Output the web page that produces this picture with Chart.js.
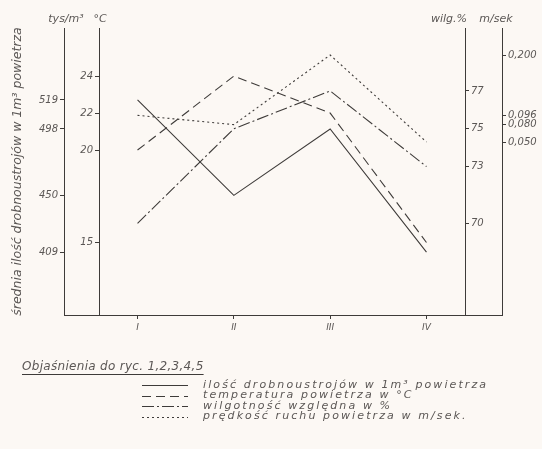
<!DOCTYPE html>
<html>
<head>
<meta charset="utf-8">
<title>Ryc.</title>
<script src="https://cdn.jsdelivr.net/npm/chart.js@4.4.0/dist/chart.umd.min.js"></script>
<style>
    html, body { margin: 0 ; padding: 0 ; background: #fcf8f4 ; }
    #wrap { width: 542px ; height: 449px ; position: relative ; }
</style>
</head>
<body>
<div id="wrap"><canvas id="ryc"></canvas></div>
<script>
// ---------------- Data -------------------------------------------------
const categories  = [ 'I', 'II', 'III', 'IV' ] ;
const microbes    = [ 519, 450, 498, 409 ] ;          // tys/m3
const temperature = [ 20, 24, 22, 15 ] ;              // °C
const humidity    = [ 70, 75, 77, 73 ] ;              // %
const windSpeed   = [ 0.096, 0.080, 0.200, 0.050 ] ;  // m/sek

const microTicks  = [ 519, 498, 450, 409 ] ;
const tempTicks   = [ 24, 22, 20, 15 ] ;
const humTicks    = [ 77, 75, 73, 70 ] ;
const speedTicks  = [ 0.200, 0.096, 0.080, 0.050 ] ;

const seriesLabels = [
    'ilość drobnoustrojów w 1m³ powietrza',
    'temperatura powietrza w °C',
    'wilgotność względna w %',
    'prędkość ruchu powietrza w m/sek.'
] ;

// ---------------- Look -------------------------------------------------
const FONT = "'DejaVu Sans'" ;
const INK  = '#3e3b39' ;
const TEXT = '#5b5755' ;

// -----------------------------------------------------------------------
// --- [START] Helpers ---------------------------------------------------
function points( values ) {
    return values.map( function( v, i ) { return { x : i + 1, y : v } ; } ) ;
}

function fixedTicks( values ) {
    return function( scale ) {
        scale.ticks = values.map( function( v ) { return { value : v } ; } ) ;
    } ;
}

function yAxis( position, weight, width, min, max, ticks, fmt ) {
    return {
        type : 'linear',
        position : position,
        weight : weight,
        min : min,
        max : max,
        afterBuildTicks : fixedTicks( ticks ),
        afterFit : function( scale ) { scale.width = width ; },
        border : { display : true, color : INK, width : 1 },
        grid : { drawOnChartArea : false, drawTicks : true, tickLength : 4, color : INK },
        ticks : {
            padding : 2,
            color : TEXT,
            font : { family : FONT, style : 'italic', size : 10 },
            callback : fmt || function( v ) { return v ; }
        }
    } ;
}
// --- [END] Helpers -----------------------------------------------------

// -----------------------------------------------------------------------
// --- [START] Decorations: units, baseline, legend ----------------------
const rycinaPlugin = {
    id : 'rycina',
    afterDraw : function( chart, args, opts ) {
        const ctx = chart.ctx ;
        const s = chart.scales ;
        const base = Math.round( chart.chartArea.bottom ) + 0.5 ;

        ctx.save() ;
        ctx.strokeStyle = INK ;
        ctx.lineWidth = 1 ;
        ctx.beginPath() ;
        ctx.moveTo( s.yMicro.right, base ) ;
        ctx.lineTo( s.ySpeed.left, base ) ;
        ctx.stroke() ;

        // units over the axes
        ctx.fillStyle = TEXT ;
        ctx.textBaseline = 'middle' ;
        ctx.font = 'italic 11px ' + FONT ;
        ctx.textAlign = 'center' ;
        ctx.fillText( 'tys/m³', s.yMicro.right + 2, opts.unitY ) ;
        ctx.fillText( '°C', s.yTemp.right + 1, opts.unitY ) ;
        ctx.textAlign = 'right' ;
        ctx.fillText( 'wilg.%', s.yHum.left + 2, opts.unitY ) ;
        ctx.textAlign = 'center' ;
        ctx.fillText( 'm/sek', s.ySpeed.left - 6, opts.unitY ) ;

        // legend
        ctx.textAlign = 'left' ;
        ctx.font = 'italic 12px ' + FONT ;
        ctx.letterSpacing = '0.3px' ;
        const title = 'Objaśnienia do ryc. 1,2,3,4,5' ;
        ctx.fillText( title, opts.titleX, opts.titleY ) ;
        const tw = ctx.measureText( title ).width ;
        ctx.beginPath() ;
        ctx.moveTo( opts.titleX, opts.titleY + 7.5 ) ;
        ctx.lineTo( opts.titleX + tw, opts.titleY + 7.5 ) ;
        ctx.stroke() ;

        ctx.font = 'italic 11px ' + FONT ;
        ctx.letterSpacing = '2.1px' ;
        chart.data.datasets.forEach( function( ds, i ) {
            const y = opts.rowY + i * opts.rowGap ;
            ctx.save() ;
            ctx.strokeStyle = ds.borderColor ;
            ctx.lineWidth = ds.borderWidth ;
            ctx.setLineDash( ds.borderDash || [] ) ;
            ctx.beginPath() ;
            ctx.moveTo( opts.sampleX, Math.round( y ) + 0.5 ) ;
            ctx.lineTo( opts.sampleX + opts.sampleW, Math.round( y ) + 0.5 ) ;
            ctx.stroke() ;
            ctx.restore() ;
            ctx.fillText( ds.label, opts.textX, y ) ;
        } ) ;
        ctx.restore() ;
    }
} ;
// --- [END] Decorations -------------------------------------------------

// -----------------------------------------------------------------------
// --- [START] Chart -----------------------------------------------------
const lineStyle = { borderColor : INK, borderWidth : 1.1, pointRadius : 0, tension : 0, fill : false } ;

new Chart( document.getElementById( 'ryc' ), {
    type : 'line',
    data : {
        datasets : [
            Object.assign( { label : seriesLabels[0], data : points( microbes ), yAxisID : 'yMicro' }, lineStyle ),
            Object.assign( { label : seriesLabels[1], data : points( temperature ), yAxisID : 'yTemp', borderDash : [ 9, 5 ] }, lineStyle ),
            Object.assign( { label : seriesLabels[2], data : points( humidity ), yAxisID : 'yHum', borderDash : [ 12, 3, 2, 3 ] }, lineStyle ),
            Object.assign( { label : seriesLabels[3], data : points( windSpeed ), yAxisID : 'ySpeed', borderDash : [ 2, 3 ] }, lineStyle )
        ]
    },
    options : {
        responsive : true,
        maintainAspectRatio : false,
        animation : false,
        layout : { padding : { top : 28, bottom : 114, left : 0, right : 0 } },
        plugins : {
            legend : { display : false },
            tooltip : { enabled : false },
            rycina : { unitY : 19, titleX : 22, titleY : 367, rowY : 385, rowGap : 10.5, sampleX : 142, sampleW : 46, textX : 203 }
        },
        scales : {
            x : {
                type : 'linear',
                min : 0.6,
                max : 4.4,
                afterBuildTicks : fixedTicks( categories.map( function( c, i ) { return i + 1 ; } ) ),
                afterFit : function( scale ) { scale.height = 20 ; },
                border : { display : false },
                grid : { drawOnChartArea : false, drawTicks : true, tickLength : 4, color : INK },
                ticks : {
                    padding : 3,
                    color : TEXT,
                    font : { family : FONT, style : 'italic', size : 9 },
                    callback : function( v ) { return categories[ v - 1 ] ; }
                }
            },
            yMicro : Object.assign( yAxis( 'left', 2, 64, 363.5, 571, microTicks ), {
                title : {
                    display : true,
                    text : 'średnia ilość drobnoustrojów w 1m³ powietrza',
                    color : TEXT,
                    padding : { top : 10, bottom : 0 },
                    font : { family : FONT, style : 'italic', size : 12.5 }
                }
            } ),
            yTemp : yAxis( 'left', 1, 35, 11.08, 26.6, tempTicks ),
            yHum : yAxis( 'right', 1, 37, 65.15, 80.33, humTicks ),
            ySpeed : yAxis( 'right', 2, 40, -0.2483, 0.2466, speedTicks, function( v ) {
                return v.toFixed( 3 ).replace( '.', ',' ) ;
            } )
        }
    },
    plugins : [ rycinaPlugin ]
} ) ;
// --- [END] Chart -------------------------------------------------------
</script>
</body>
</html>
